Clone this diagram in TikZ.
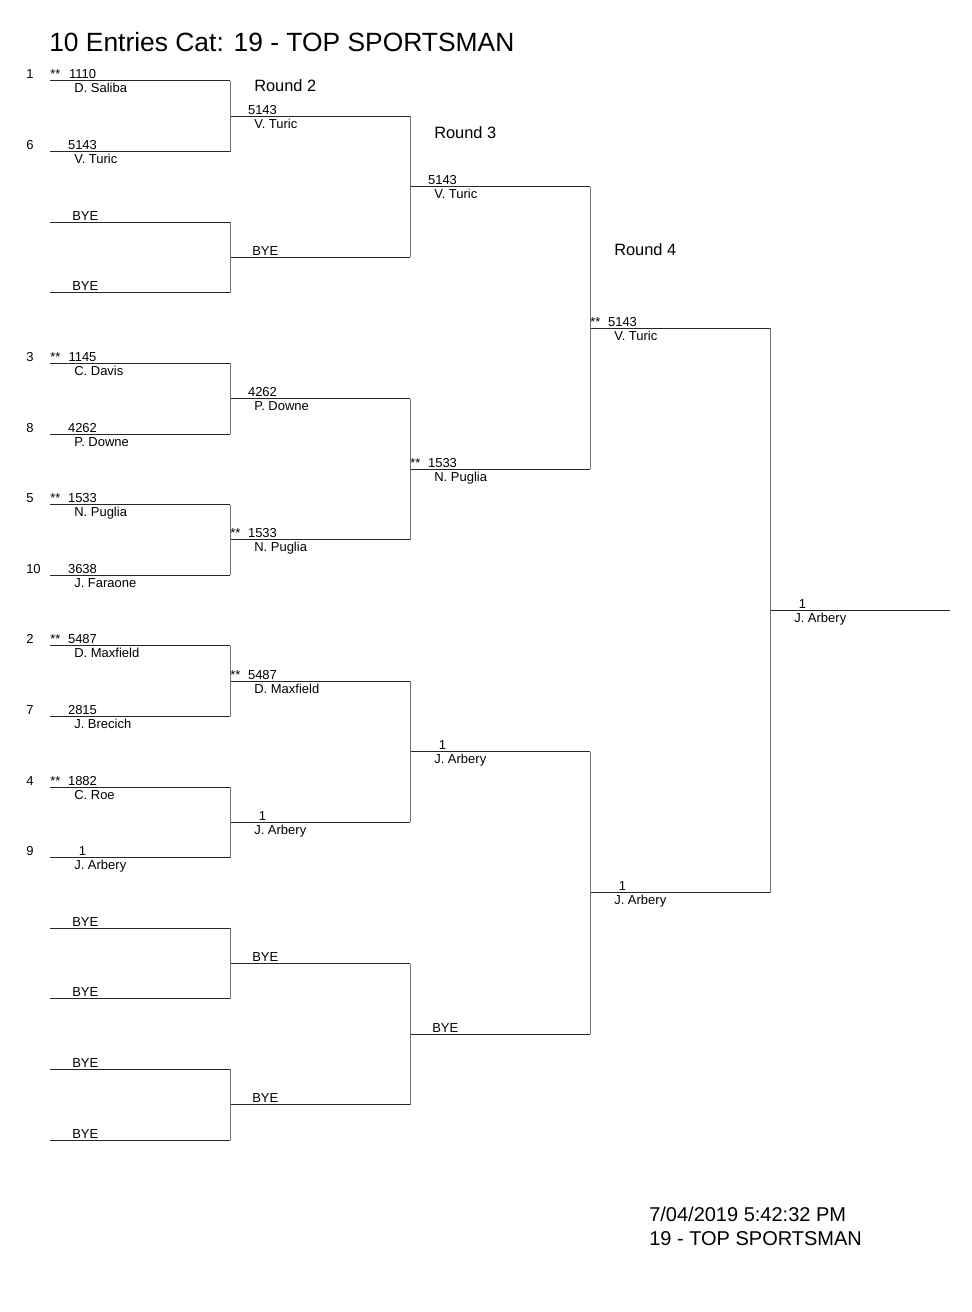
\documentclass[tikz,border=0pt]{standalone}
\usepackage{fontspec}
\setmainfont{Liberation Sans}
\begin{document}
\begin{tikzpicture}[x=0.75pt,y=-0.75pt,
  hline/.style={draw=black!85,line width=0.75pt},
  vline/.style={draw=black!55,line width=0.75pt},
  lab/.style={inner sep=0pt,font=\fontsize{9.75}{11}\selectfont},
  rlab/.style={inner sep=0pt,anchor=base west,font=\fontsize{12.3}{14}\selectfont},
  ttl/.style={inner sep=0pt,anchor=base west,font=\fontsize{19.8}{22}\selectfont},
  foot/.style={inner sep=0pt,anchor=base west,font=\fontsize{15}{17}\selectfont}]
\useasboundingbox (0,0) rectangle (971,1312);
% slot coordinates
\foreach \r/\n in {1/16,2/8,3/4,4/2,5/1} {
  \foreach \k in {1,...,\n} {
    \pgfmathsetmacro\yy{81+70.6*((\k-1)*2^(\r-1)+(2^(\r-1)-1)/2)}
    \coordinate (a\r-\k) at ({50+180*(\r-1)},\yy);
    \coordinate (b\r-\k) at ({230+180*(\r-1)},\yy);
  }
}
% horizontal lines
\foreach \r/\n in {1/16,2/8,3/4,4/2,5/1} {
  \foreach \k in {1,...,\n} {
    \draw[hline] (a\r-\k) -- (b\r-\k);
  }
}
% vertical joins
\foreach \r/\n in {1/8,2/4,3/2,4/1} {
  \foreach \k in {1,...,\n} {
    \pgfmathtruncatemacro\ka{2*\k-1}
    \pgfmathtruncatemacro\kb{2*\k}
    \draw[vline] (b\r-\ka) -- (b\r-\kb);
  }
}
\newcommand\plyr[3]{%
  \node[lab,anchor=base] (n-#1) at ([shift={(32.5,-2)}]#1) {#2};
  \node[lab,anchor=base west] (m-#1) at ([shift={(24,12)}]#1) {#3};}
\newcommand\splyr[3]{%
  \node[lab,anchor=base west] (s-#1) at ([shift={(0,-2)}]#1) {**};
  \plyr{#1}{#2}{#3}}
\newcommand\byeslot[1]{%
  \node[lab,anchor=base west] (y-#1) at ([shift={(22,-2)}]#1) {BYE};}
\newcommand\seed[2]{%
  \node[lab,anchor=base west] (d-#1) at ([shift={(-24,-2)}]#1) {#2};}
% title
\node[ttl] (title) at (49,52) {10 Entries Cat: 19 - TOP SPORTSMAN};
% round labels
\node[rlab] (rd2) at (254,92) {Round 2};
\node[rlab] (rd3) at (434,139) {Round 3};
\node[rlab] (rd4) at (614,256) {Round 4};
% round 1
\seed{a1-1}{1}\splyr{a1-1}{1110}{D. Saliba}
\seed{a1-2}{6}\plyr{a1-2}{5143}{V. Turic}
\byeslot{a1-3}
\byeslot{a1-4}
\seed{a1-5}{3}\splyr{a1-5}{1145}{C. Davis}
\seed{a1-6}{8}\plyr{a1-6}{4262}{P. Downe}
\seed{a1-7}{5}\splyr{a1-7}{1533}{N. Puglia}
\seed{a1-8}{10}\plyr{a1-8}{3638}{J. Faraone}
\seed{a1-9}{2}\splyr{a1-9}{5487}{D. Maxfield}
\seed{a1-10}{7}\plyr{a1-10}{2815}{J. Brecich}
\seed{a1-11}{4}\splyr{a1-11}{1882}{C. Roe}
\seed{a1-12}{9}\plyr{a1-12}{1}{J. Arbery}
\byeslot{a1-13}
\byeslot{a1-14}
\byeslot{a1-15}
\byeslot{a1-16}
% round 2
\plyr{a2-1}{5143}{V. Turic}
\byeslot{a2-2}
\plyr{a2-3}{4262}{P. Downe}
\splyr{a2-4}{1533}{N. Puglia}
\splyr{a2-5}{5487}{D. Maxfield}
\plyr{a2-6}{1}{J. Arbery}
\byeslot{a2-7}
\byeslot{a2-8}
% round 3
\plyr{a3-1}{5143}{V. Turic}
\splyr{a3-2}{1533}{N. Puglia}
\plyr{a3-3}{1}{J. Arbery}
\byeslot{a3-4}
% round 4
\splyr{a4-1}{5143}{V. Turic}
\plyr{a4-2}{1}{J. Arbery}
% final
\plyr{a5-1}{1}{J. Arbery}
% footer
\node[foot] (foot1) at (649,1221.5) {7/04/2019 5:42:32 PM};
\node[foot] (foot2) at (649,1245) {19 - TOP SPORTSMAN};
\end{tikzpicture}
\end{document}
